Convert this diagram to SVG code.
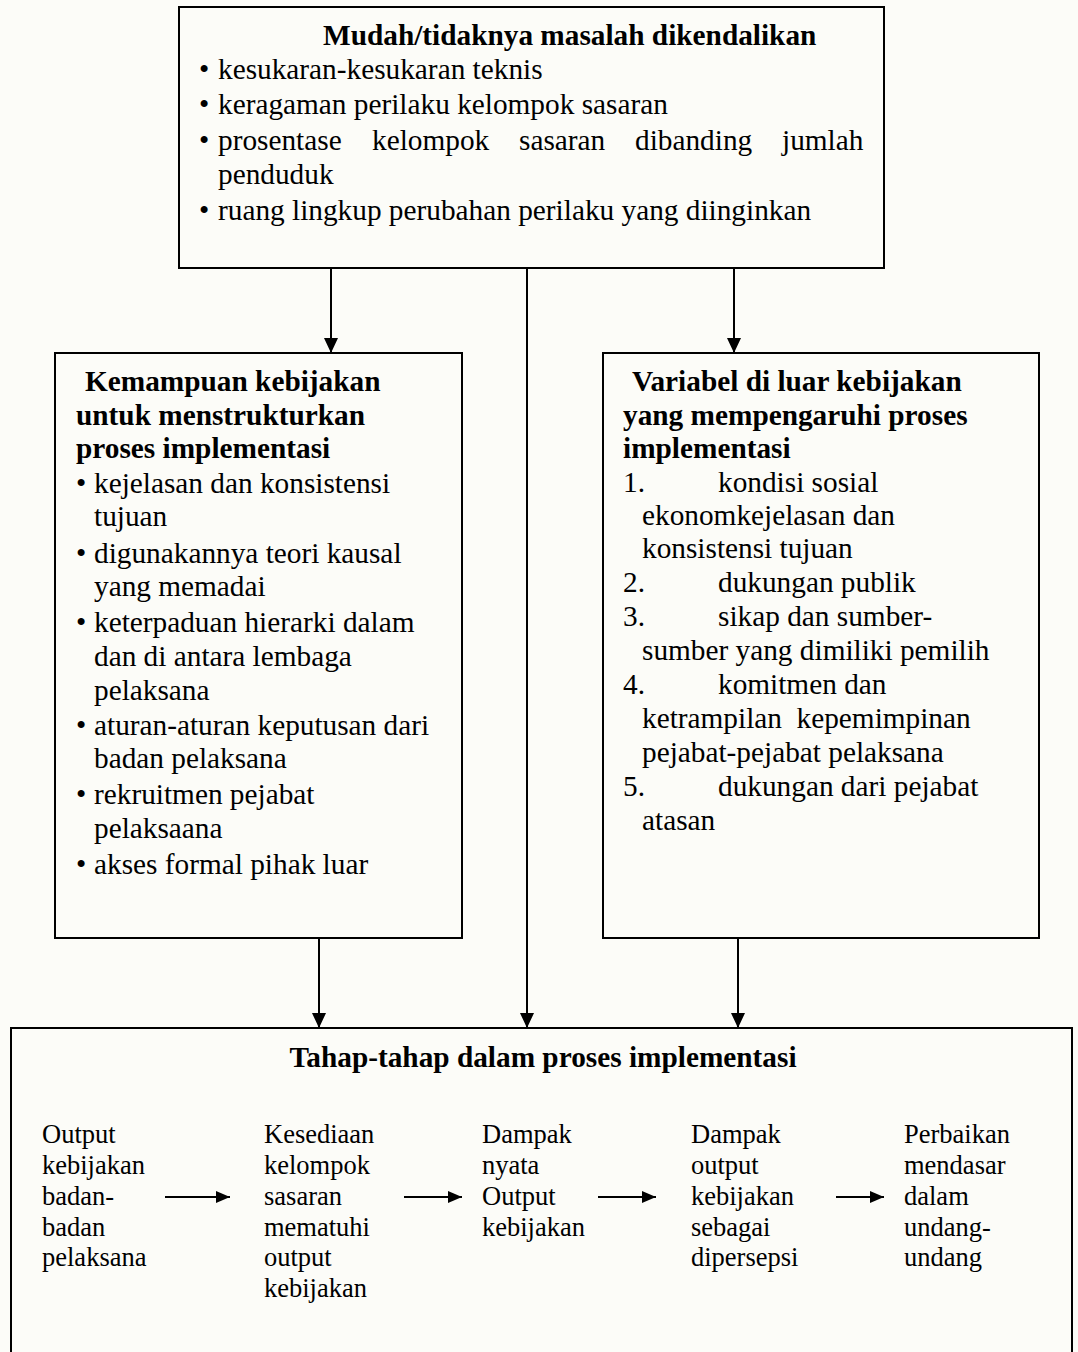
<svg xmlns="http://www.w3.org/2000/svg" width="1078" height="1352" viewBox="0 0 1078 1352">
  <defs>
    <!-- filled triangular heads; path points along +x, rotated with the line -->
    <marker id="arrowDown" viewBox="0 0 15 14" refX="15" refY="7" markerWidth="15" markerHeight="14" markerUnits="userSpaceOnUse" orient="auto">
      <path d="M0,0 L15,7 L0,14 Z" fill="#000"/>
    </marker>
    <marker id="arrowRight" viewBox="0 0 14 12" refX="14" refY="6" markerWidth="14" markerHeight="12" markerUnits="userSpaceOnUse" orient="auto">
      <path d="M0,0 L14,6 L0,12 Z" fill="#000"/>
    </marker>
  </defs>
  <style>
    .box { fill: none; stroke: #000; stroke-width: 2; }
    .link { fill: none; stroke: #000; stroke-width: 2; }
    text { font-family: "Liberation Serif", "Times New Roman", serif; fill: #000; }
    .hd { font-size: 29.3px; font-weight: bold; }
    .tx { font-size: 29.3px; }
    .sm { font-size: 26.5px; }
    .bul { font-size: 29.3px; }
  </style>

  <rect x="0" y="0" width="1078" height="1352" fill="#fcfcf8"/>

  <!-- Factor: tractability of the problem -->
  <g id="node-masalah">
    <rect class="box" x="179" y="7" width="705" height="261"/>
    <text class="hd" x="323" y="45">Mudah/tidaknya masalah dikendalikan</text>
    <text class="bul" x="199" y="79">•</text>
    <text class="tx" x="218" y="79">kesukaran-kesukaran teknis</text>
    <text class="bul" x="199" y="114">•</text>
    <text class="tx" x="218" y="114">keragaman perilaku kelompok sasaran</text>
    <text class="bul" x="199" y="150">•</text>
    <text class="tx" y="150"><tspan x="218">prosentase</tspan><tspan x="372">kelompok</tspan><tspan x="519">sasaran</tspan><tspan x="635">dibanding</tspan><tspan x="782">jumlah</tspan></text>
    <text class="tx" x="218" y="184">penduduk</text>
    <text class="bul" x="199" y="220">•</text>
    <text class="tx" x="218" y="220">ruang lingkup perubahan perilaku yang diinginkan</text>
  </g>

  <!-- Factor: ability of policy to structure implementation -->
  <g id="node-kemampuan">
    <rect class="box" x="55" y="353" width="407" height="585"/>
    <text class="hd" x="85" y="391">Kemampuan kebijakan</text>
    <text class="hd" x="76" y="425">untuk menstrukturkan</text>
    <text class="hd" x="76" y="458">proses implementasi</text>
    <text class="bul" x="76" y="493">•</text>
    <text class="tx" x="94" y="493">kejelasan dan konsistensi</text>
    <text class="tx" x="94" y="526">tujuan</text>
    <text class="bul" x="76" y="563">•</text>
    <text class="tx" x="94" y="563">digunakannya teori kausal</text>
    <text class="tx" x="94" y="596">yang memadai</text>
    <text class="bul" x="76" y="632">•</text>
    <text class="tx" x="94" y="632">keterpaduan hierarki dalam</text>
    <text class="tx" x="94" y="666">dan di antara lembaga</text>
    <text class="tx" x="94" y="700">pelaksana</text>
    <text class="bul" x="76" y="735">•</text>
    <text class="tx" x="94" y="735">aturan-aturan keputusan dari</text>
    <text class="tx" x="94" y="768">badan pelaksana</text>
    <text class="bul" x="76" y="804">•</text>
    <text class="tx" x="94" y="804">rekruitmen pejabat</text>
    <text class="tx" x="94" y="838">pelaksaana</text>
    <text class="bul" x="76" y="874">•</text>
    <text class="tx" x="94" y="874">akses formal pihak luar</text>
  </g>

  <!-- Factor: variables outside the policy -->
  <g id="node-variabel">
    <rect class="box" x="603" y="353" width="436" height="585"/>
    <text class="hd" x="632" y="391">Variabel di luar kebijakan</text>
    <text class="hd" x="623" y="425">yang mempengaruhi proses</text>
    <text class="hd" x="623" y="458">implementasi</text>
    <text class="tx" x="623" y="492">1.</text>
    <text class="tx" x="718" y="492">kondisi sosial</text>
    <text class="tx" x="642" y="525">ekonomkejelasan dan</text>
    <text class="tx" x="642" y="558">konsistensi tujuan</text>
    <text class="tx" x="623" y="592">2.</text>
    <text class="tx" x="718" y="592">dukungan publik</text>
    <text class="tx" x="623" y="626">3.</text>
    <text class="tx" x="718" y="626">sikap dan sumber-</text>
    <text class="tx" x="642" y="660">sumber yang dimiliki pemilih</text>
    <text class="tx" x="623" y="694">4.</text>
    <text class="tx" x="718" y="694">komitmen dan</text>
    <text class="tx" x="642" y="728" xml:space="preserve">ketrampilan  kepemimpinan</text>
    <text class="tx" x="642" y="762">pejabat-pejabat pelaksana</text>
    <text class="tx" x="623" y="796">5.</text>
    <text class="tx" x="718" y="796">dukungan dari pejabat</text>
    <text class="tx" x="642" y="830">atasan</text>
  </g>

  <!-- Stages of the implementation process -->
  <g id="node-tahap">
    <rect class="box" x="11" y="1028" width="1061" height="340"/>
    <text class="hd" x="543" y="1067" text-anchor="middle">Tahap-tahap dalam proses implementasi</text>
    <text class="sm" x="42"><tspan y="1143">Output</tspan><tspan x="42" y="1174">kebijakan</tspan><tspan x="42" y="1205">badan-</tspan><tspan x="42" y="1236">badan</tspan><tspan x="42" y="1266">pelaksana</tspan></text>
    <text class="sm" x="264"><tspan y="1143">Kesediaan</tspan><tspan x="264" y="1174">kelompok</tspan><tspan x="264" y="1205">sasaran</tspan><tspan x="264" y="1236">mematuhi</tspan><tspan x="264" y="1266">output</tspan><tspan x="264" y="1297">kebijakan</tspan></text>
    <text class="sm" x="482"><tspan y="1143">Dampak</tspan><tspan x="482" y="1174">nyata</tspan><tspan x="482" y="1205">Output</tspan><tspan x="482" y="1236">kebijakan</tspan></text>
    <text class="sm" x="691"><tspan y="1143">Dampak</tspan><tspan x="691" y="1174">output</tspan><tspan x="691" y="1205">kebijakan</tspan><tspan x="691" y="1236">sebagai</tspan><tspan x="691" y="1266">dipersepsi</tspan></text>
    <text class="sm" x="904"><tspan y="1143">Perbaikan</tspan><tspan x="904" y="1174">mendasar</tspan><tspan x="904" y="1205">dalam</tspan><tspan x="904" y="1236">undang-</tspan><tspan x="904" y="1266">undang</tspan></text>
  </g>

  <g id="connectors">
    <line class="link" x1="331" y1="268" x2="331" y2="353" marker-end="url(#arrowDown)"/>
    <line class="link" x1="527" y1="268" x2="527" y2="1028" marker-end="url(#arrowDown)"/>
    <line class="link" x1="734" y1="268" x2="734" y2="353" marker-end="url(#arrowDown)"/>
    <line class="link" x1="319" y1="938" x2="319" y2="1028" marker-end="url(#arrowDown)"/>
    <line class="link" x1="738" y1="938" x2="738" y2="1028" marker-end="url(#arrowDown)"/>
    <line class="link" x1="165" y1="1197" x2="230" y2="1197" marker-end="url(#arrowRight)"/>
    <line class="link" x1="404" y1="1197" x2="462" y2="1197" marker-end="url(#arrowRight)"/>
    <line class="link" x1="598" y1="1197" x2="656" y2="1197" marker-end="url(#arrowRight)"/>
    <line class="link" x1="836" y1="1197" x2="884" y2="1197" marker-end="url(#arrowRight)"/>
  </g>
</svg>
